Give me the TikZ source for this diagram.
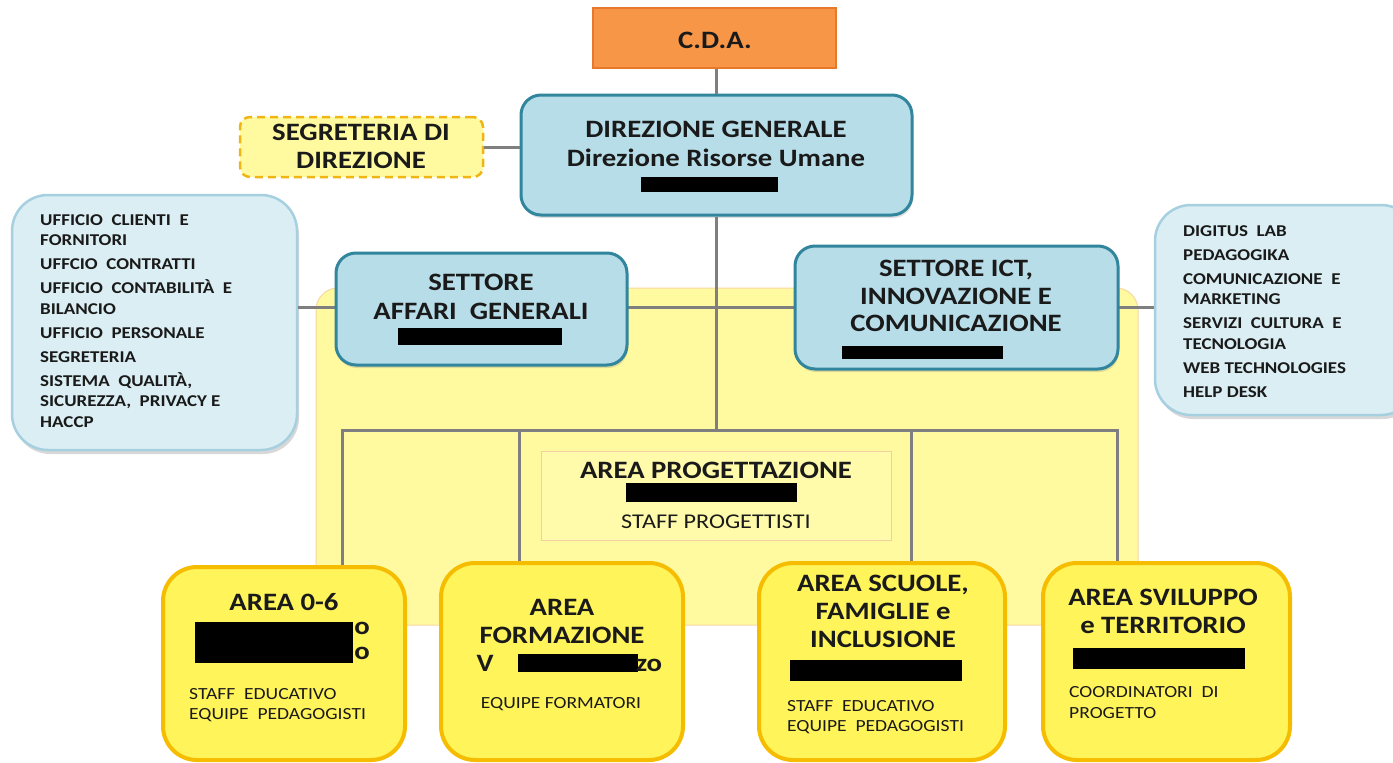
\documentclass[tikz,border=0pt]{standalone}
\usepackage{fontspec}
\setmainfont{Carlito}[FakeStretch=1.15]
\usetikzlibrary{shadows}
\definecolor{cdaFill}{HTML}{F79646}
\definecolor{cdaLine}{HTML}{E8782A}
\definecolor{dgFill}{HTML}{B7DDE8}
\definecolor{dgLine}{HTML}{31859C}
\definecolor{lstFill}{HTML}{DAEEF3}
\definecolor{lstLine}{HTML}{A6D0E0}
\definecolor{bgFill}{HTML}{FFFA9F}
\definecolor{bgLine}{HTML}{F8D7A0}
\definecolor{progFill}{HTML}{FFFBAA}
\definecolor{progLine}{HTML}{F3CFA0}
\definecolor{areaFill}{HTML}{FFF45A}
\definecolor{areaLine}{HTML}{F5BC00}
\definecolor{segLine}{HTML}{F0B414}
\definecolor{lineGray}{HTML}{7F7F7F}
\definecolor{txt}{HTML}{1A1A1A}
\tikzset{
  ln/.style={draw=lineGray, line width=3pt},
  cdabox/.style={draw=cdaLine, fill=cdaFill, line width=2pt},
  segbox/.style={draw=segLine, fill=bgFill, line width=2.5pt, dashed, dash pattern=on 8pt off 5pt, rounded corners=10pt},
  dgbox/.style={draw=dgLine, fill=dgFill, line width=3pt, rounded corners=20pt,
    drop shadow={opacity=0.25, shadow xshift=1pt, shadow yshift=-3pt}},
  lstbox/.style={draw=lstLine, fill=lstFill, line width=2.5pt, rounded corners=36pt,
    drop shadow={opacity=0.3, shadow xshift=2pt, shadow yshift=-4pt}},
  bgbox/.style={draw=bgLine, fill=bgFill, line width=1pt, rounded corners=22pt},
  progbox/.style={draw=progLine, fill=progFill, line width=1pt},
  areabox/.style={draw=areaLine, fill=areaFill, line width=4pt, rounded corners=34pt},
  redact/.style={fill=black, draw=none, inner sep=0pt},
  tC/.style={text=txt, font=\bfseries\fontsize{25}{29}\selectfont, inner sep=0pt, anchor=base},
  tD/.style={text=txt, font=\bfseries\fontsize{25}{29}\selectfont, inner sep=0pt, anchor=base},
  tS/.style={text=txt, font=\bfseries\fontsize{25}{29}\selectfont, inner sep=0pt, anchor=base},
  tA/.style={text=txt, font=\bfseries\fontsize{25}{29}\selectfont, inner sep=0pt, anchor=base},
  tR/.style={text=txt, font=\fontsize{21}{24}\selectfont, inner sep=0pt, anchor=base},
  tN/.style={text=txt, font=\fontsize{17}{20}\selectfont, inner sep=0pt, anchor=base west},
  tL/.style={text=txt, font=\bfseries\fontsize{16.5}{20.5}\selectfont, inner sep=0pt, anchor=north west, align=left},
}
\begin{document}
\begin{tikzpicture}[x=1pt,y=-1pt]
\clip (0,0) rectangle (1393,763);
\fill[white] (0,0) rectangle (1393,763);

% background area
\node[bgbox, minimum width=822pt, minimum height=337pt] (bg) at (727,456.5) {};

\coordinate (hl) at (716,307);
\coordinate (bar) at (716,430);
\coordinate (b1) at (342,430);
\coordinate (b2) at (519,430);
\coordinate (b3) at (911,430);
\coordinate (b4) at (1117,430);

\node[lstbox, minimum width=285pt, minimum height=255pt] (lst) at (154.5,322.5) {};
\node[lstbox, minimum width=262pt, minimum height=210pt] (rst) at (1286,310) {};

\path (284,663.5) coordinate (a06c) (562,661.5) coordinate (formc) (882,661.5) coordinate (scuc) (1166.5,661.5) coordinate (svic);

% connectors
\draw[ln] (lst.east |- hl) -- (rst.west |- hl);
\node[cdabox, minimum width=243pt, minimum height=60pt] (cda) at (714.5,38) {};
\node[segbox, minimum width=243pt, minimum height=60pt] (seg) at (361.5,147) {};
\node[dgbox, minimum width=391pt, minimum height=120pt] (dg) at (716.5,155) {};
\draw[ln] (cda.south -| hl) -- (dg.north -| hl);
\draw[ln] (seg.east) -- (seg.east -| dg.west);
\draw[ln] (dg.south -| bar) -- (bar);
\draw[ln, line join=miter] (b1 |- a06c) -- (b1) -- (b4) -- (b4 |- svic);
\draw[ln] (b2) -- (b2 |- formc);
\draw[ln] (b3) -- (b3 |- scuc);

\node[dgbox, minimum width=291pt, minimum height=112pt] (aff) at (481.5,309) {};
\node[dgbox, minimum width=323pt, minimum height=123pt] (ict) at (956.5,307.5) {};
\node[progbox, minimum width=350pt, minimum height=89pt] (prog) at (716,495.5) {};

\node[areabox, minimum width=242pt, minimum height=193pt] (a06) at (a06c) {};
\node[areabox, minimum width=242pt, minimum height=197pt] (form) at (formc) {};
\node[areabox, minimum width=246pt, minimum height=197pt] (scu) at (scuc) {};
\node[areabox, minimum width=247pt, minimum height=197pt] (svi) at (svic) {};

% texts
\node[tC] (tcda) at (715,48) {C.D.A.};
\node[tC] (tseg1) at (361,140) {SEGRETERIA DI};
\node[tC] (tseg2) at (361,168) {DIREZIONE};
\node[tD] (tdg1) at (716,137) {DIREZIONE GENERALE};
\node[tD] (tdg2) at (716,166) {Direzione Risorse Umane};
\node[redact, minimum width=137pt, minimum height=15pt] (rdg) at (709.5,184.5) {};

\node[tS] (taff1) at (481,290) {SETTORE};
\node[tS] (taff2) at (481,319) {AFFARI\ \ GENERALI};
\node[redact, minimum width=164pt, minimum height=17pt] (raff) at (480,336.5) {};

\node[tS] (tict1) at (956,276) {SETTORE ICT,};
\node[tS] (tict2) at (956,304) {INNOVAZIONE E};
\node[tS] (tict3) at (956,331) {COMUNICAZIONE};
\node[redact, minimum width=161pt, minimum height=13pt] (rict) at (922.5,352.5) {};

\node[tL] (tlst) at (40,214) {UFFICIO\ \ CLIENTI\ \ E\\FORNITORI\\[3.5pt]UFFCIO\ \ CONTRATTI\\[3.5pt]UFFICIO\ \ CONTABILIT\`A\ \ E\\BILANCIO\\[3.5pt]UFFICIO\ \ PERSONALE\\[3.5pt]SEGRETERIA\\[3.5pt]SISTEMA\ \ QUALIT\`A,\\SICUREZZA,\ \ PRIVACY E\\HACCP};
\node[tL] (trst) at (1183,225) {DIGITUS\ \ LAB\\[3.5pt]PEDAGOGIKA\\[3.5pt]COMUNICAZIONE\ \ E\\MARKETING\\[3.5pt]SERVIZI\ \ CULTURA\ \ E\\TECNOLOGIA\\[3.5pt]WEB TECHNOLOGIES\\[3.5pt]HELP DESK};

\node[tA] (tprog1) at (716,478) {AREA PROGETTAZIONE};
\node[redact, minimum width=171pt, minimum height=19pt] (rprog) at (711.5,492.5) {};
\node[tR] (tprog2) at (716,528) {STAFF PROGETTISTI};

\node[tA] (ta061) at (284,610) {AREA 0-6};
\node[redact, minimum width=158pt, minimum height=41pt] (ra06) at (274,642.5) {};
\node[tA] (ta06o1) at (362,634) {o};
\node[tA] (ta06o2) at (362,659) {o};
\node[tN] (ta062) at (189,699) {STAFF\ \ EDUCATIVO};
\node[tN] (ta063) at (189,719) {EQUIPE\ \ PEDAGOGISTI};

\node[tA] (tform1) at (562,615) {AREA};
\node[tA] (tform2) at (562,643) {FORMAZIONE};
\node[tA] (tformv) at (485,671) {V};
\node[redact, minimum width=120pt, minimum height=18pt] (rform) at (578,663) {};
\node[tA] (tformzo) at (649,671) {zo};
\node[tR, font=\fontsize{17}{20}\selectfont] (tform3) at (561,708) {EQUIPE FORMATORI};

\node[tA] (tscu1) at (883,591) {AREA SCUOLE,};
\node[tA] (tscu2) at (883,619) {FAMIGLIE e};
\node[tA] (tscu3) at (883,647) {INCLUSIONE};
\node[redact, minimum width=172pt, minimum height=21pt] (rscu) at (876,670.5) {};
\node[tN] (tscu4) at (787,711) {STAFF\ \ EDUCATIVO};
\node[tN] (tscu5) at (787,731) {EQUIPE\ \ PEDAGOGISTI};

\node[tA] (tsvi1) at (1163,605) {AREA SVILUPPO};
\node[tA] (tsvi2) at (1163,633) {e TERRITORIO};
\node[redact, minimum width=172pt, minimum height=21pt] (rsvi) at (1159,658.5) {};
\node[tN] (tsvi3) at (1069,697) {COORDINATORI\ \ DI};
\node[tN] (tsvi4) at (1069,718) {PROGETTO};
\end{tikzpicture}
\end{document}
